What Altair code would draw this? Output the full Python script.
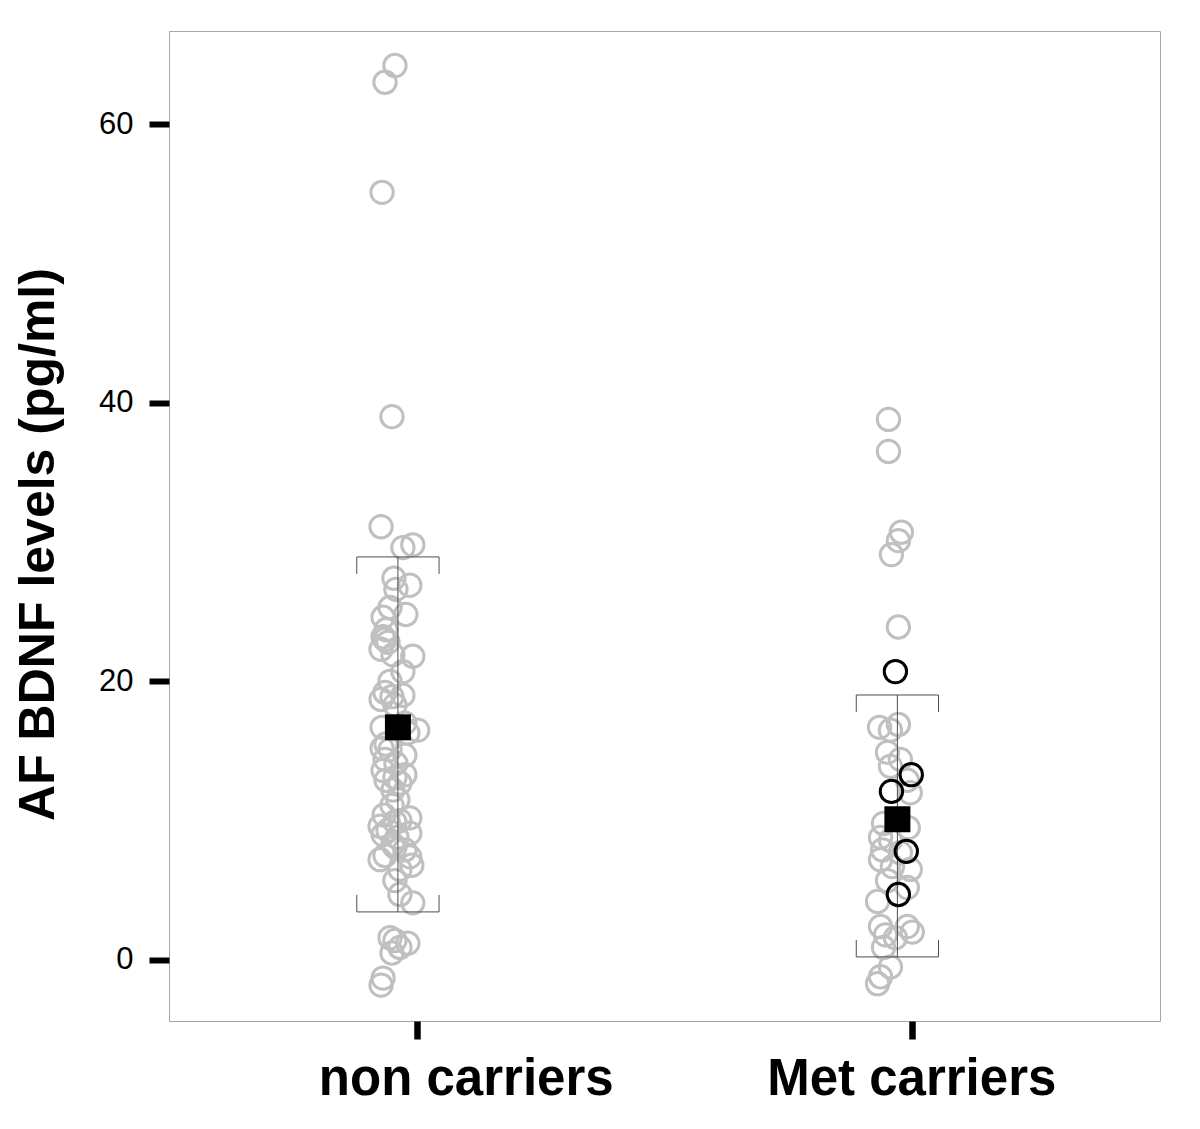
import altair as alt
import pandas as pd

# ---- data ----
group_names = ["non carriers", "Met carriers"]
group_pos = [1, 2]
point_center = [0.962, 1.970]

non_y = [64.2, 63.0, 55.1, 39.0, 31.1, 29.8, 29.6, 27.4, 26.9, 26.6, 25.3, 24.8, 24.6,
         23.7, 23.2, 23.0, 22.8, 22.3, 21.9, 21.8, 20.7, 20.0, 19.2, 19.0, 18.9, 18.7, 18.3,
         17.0, 16.7, 16.5, 16.3, 15.5, 15.2, 15.1, 14.7, 14.4, 14.1, 13.6, 13.3, 13.1, 12.9,
         12.7, 12.2, 11.5, 11.1, 10.4, 10.2, 10.0, 9.9, 9.6, 9.3, 9.1, 9.0, 8.8, 8.3, 8.1,
         7.9, 7.5, 7.4, 7.2, 6.8, 6.5, 5.7, 4.7, 4.1, 1.6, 1.4, 1.2, 0.9, 0.5, -1.3, -1.8]
non_jit = [-0.006, -0.026, -0.032, -0.012, -0.034, 0.030, 0.010, -0.008, 0.024, -0.004, -0.016,
           0.016, -0.030, -0.024, -0.030, -0.026, -0.020, -0.034, -0.010, 0.030, 0.010, -0.016,
           -0.026, 0.010, -0.012, -0.034, -0.006, 0.014, -0.032, 0.040, 0.020, -0.024, -0.032,
           -0.016, 0.014, -0.026, -0.004, -0.030, 0.014, -0.006, -0.024, 0.004, -0.010, 0.000,
           -0.012, -0.028, 0.024, 0.004, -0.006, -0.036, -0.020, 0.024, -0.030, -0.002, -0.010,
           -0.006, 0.014, -0.026, 0.024, -0.036, 0.028, 0.004, -0.006, 0.004, 0.030, -0.016,
           -0.006, 0.020, 0.004, -0.012, -0.030, -0.034]

met_y = [38.8, 36.5, 30.7, 30.1, 29.1, 23.9, 16.7, 16.9, 16.5, 14.9, 14.4, 13.9, 12.9, 12.0,
         9.8, 9.5, 8.8, 8.6, 7.9, 7.7, 7.2, 6.7, 6.5, 5.7, 5.2, 4.2, 2.4, 2.4, 2.0, 1.8, 1.6,
         0.9, -0.5, -1.2, -1.7]
met_jit = [-0.018, -0.018, 0.008, 0.002, -0.012, 0.002, -0.036, 0.002, -0.014, -0.020, 0.006,
           -0.014, 0.020, 0.026, -0.028, 0.022, -0.034, -0.014, -0.030, 0.006, -0.034, -0.010,
           0.026, -0.020, 0.020, -0.040, -0.034, 0.020, 0.030, -0.024, -0.004, -0.028, -0.014,
           -0.034, -0.040]

met_black_y = [20.7, 13.3, 12.1, 7.8, 4.7]
met_black_jit = [-0.004, 0.028, -0.012, 0.018, 0.002]

group_mean = [16.7, 10.1]
group_lo = [3.45, 0.22]
group_hi = [28.93, 19.02]

# ---- tables ----
gray = pd.DataFrame({
    "x": [point_center[0] + j for j in non_jit] + [point_center[1] + j for j in met_jit],
    "y": non_y + met_y,
})
black = pd.DataFrame({
    "x": [point_center[1] + j for j in met_black_jit],
    "y": met_black_y,
})
means = pd.DataFrame({"x": point_center, "y": group_mean})

hw = 0.083   # cap half width (x units)
tl = 1.22    # cap end tick length (y units)
eb = pd.DataFrame({"c": point_center, "lo": group_lo, "hi": group_hi})
eb["l"] = eb["c"] - hw
eb["r"] = eb["c"] + hw
eb["hi_in"] = eb["hi"] - tl
eb["lo_in"] = eb["lo"] + tl

xscale = alt.Scale(domain=[0.5, 2.5], nice=False, zero=False)
yscale = alt.Scale(domain=[-4.38, 66.68], nice=False, zero=False)

label_expr = "datum.value == 1 ? '%s' : '%s'" % (group_names[0], group_names[1])

xaxis = alt.Axis(values=group_pos, labelExpr=label_expr, title=None, grid=False, domain=False,
                 tickSize=18, tickWidth=6.5, tickColor="black", labelFontSize=51,
                 labelFontWeight="bold", labelColor="black", labelFont="Liberation Sans",
                 labelPadding=15, labelLimit=2000, labelOverlap=False,
                 labelOffset={"condition": {"test": "datum.value == 1", "value": 49}, "value": -1})
yaxis = alt.Axis(values=[0, 20, 40, 60], title="AF BDNF levels (pg/ml)", grid=False, domain=False,
                 tickSize=20, tickWidth=6, tickColor="black", labelFontSize=31,
                 labelColor="black", labelFont="Liberation Sans", labelPadding=16,
                 titleFontSize=50, titleFont="Liberation Sans", titleFontWeight="bold",
                 titleColor="black", titleAngle=270, titleX=-116, titleY=513,
                 titleAlign="center", titleBaseline="alphabetic")

base_x = alt.X("x:Q", scale=xscale, axis=xaxis)
base_y = alt.Y("y:Q", scale=yscale, axis=yaxis)

gray_layer = alt.Chart(gray).mark_point(shape="circle", filled=False, size=500, stroke="#c0c0c0",
                                        strokeWidth=3, opacity=1).encode(x=base_x, y=base_y)

vline = alt.Chart(eb).mark_rule(color="#4d4d4d", strokeWidth=1).encode(
    x=alt.X("c:Q", scale=xscale), y=alt.Y("lo:Q", scale=yscale), y2="hi:Q")
topcap = alt.Chart(eb).mark_rule(color="#4d4d4d", strokeWidth=1).encode(
    x=alt.X("l:Q", scale=xscale), x2="r:Q", y=alt.Y("hi:Q", scale=yscale))
botcap = alt.Chart(eb).mark_rule(color="#4d4d4d", strokeWidth=1).encode(
    x=alt.X("l:Q", scale=xscale), x2="r:Q", y=alt.Y("lo:Q", scale=yscale))
top_l = alt.Chart(eb).mark_rule(color="#4d4d4d", strokeWidth=1).encode(
    x=alt.X("l:Q", scale=xscale), y=alt.Y("hi:Q", scale=yscale), y2="hi_in:Q")
top_r = alt.Chart(eb).mark_rule(color="#4d4d4d", strokeWidth=1).encode(
    x=alt.X("r:Q", scale=xscale), y=alt.Y("hi:Q", scale=yscale), y2="hi_in:Q")
bot_l = alt.Chart(eb).mark_rule(color="#4d4d4d", strokeWidth=1).encode(
    x=alt.X("l:Q", scale=xscale), y=alt.Y("lo:Q", scale=yscale), y2="lo_in:Q")
bot_r = alt.Chart(eb).mark_rule(color="#4d4d4d", strokeWidth=1).encode(
    x=alt.X("r:Q", scale=xscale), y=alt.Y("lo:Q", scale=yscale), y2="lo_in:Q")

black_layer = alt.Chart(black).mark_point(shape="circle", filled=False, size=500, stroke="black",
                                          strokeWidth=3, opacity=1).encode(
    x=alt.X("x:Q", scale=xscale), y=alt.Y("y:Q", scale=yscale))

mean_layer = alt.Chart(means).mark_point(shape="square", filled=True, size=676, color="black",
                                         opacity=1).encode(
    x=alt.X("x:Q", scale=xscale), y=alt.Y("y:Q", scale=yscale))

chart = alt.layer(gray_layer, vline, topcap, botcap, top_l, top_r, bot_l, bot_r,
                  black_layer, mean_layer).properties(
    width=991, height=990,
    autosize=alt.AutoSizeParams(type="none"),
    padding={"left": 161, "top": 23, "right": 20, "bottom": 99},
    background="white",
).configure_view(stroke="#a6a6a6", strokeWidth=1)

chart.save("out.html", embed_options={"renderer": "svg", "actions": False})
